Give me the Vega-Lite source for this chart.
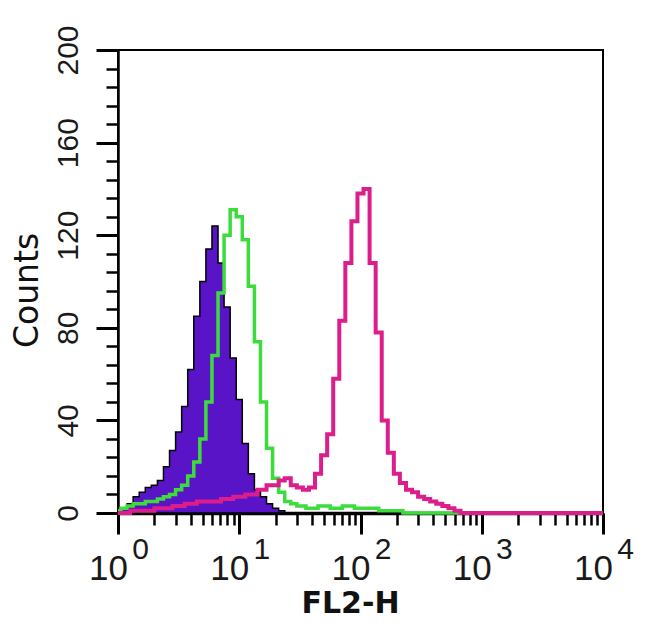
{
  "$schema": "https://vega.github.io/schema/vega-lite/v6.json",
  "width": 485,
  "height": 463,
  "autosize": "none",
  "padding": {"left": 118, "top": 50, "right": 47, "bottom": 116},
  "background": "white",
  "config": {"view": {"stroke": "black", "strokeWidth": 2}},
  "data": {"values": [
    {"s": "purple", "fl": 1, "c": 0},
    {"s": "purple", "fl": 1.122, "c": 2},
    {"s": "purple", "fl": 1.259, "c": 4},
    {"s": "purple", "fl": 1.413, "c": 7},
    {"s": "purple", "fl": 1.585, "c": 9},
    {"s": "purple", "fl": 1.778, "c": 11},
    {"s": "purple", "fl": 1.995, "c": 12},
    {"s": "purple", "fl": 2.239, "c": 14},
    {"s": "purple", "fl": 2.512, "c": 20},
    {"s": "purple", "fl": 2.818, "c": 27},
    {"s": "purple", "fl": 3.162, "c": 35},
    {"s": "purple", "fl": 3.548, "c": 46},
    {"s": "purple", "fl": 3.981, "c": 62},
    {"s": "purple", "fl": 4.467, "c": 85},
    {"s": "purple", "fl": 5.012, "c": 100},
    {"s": "purple", "fl": 5.623, "c": 114},
    {"s": "purple", "fl": 6.31, "c": 124},
    {"s": "purple", "fl": 7.079, "c": 108},
    {"s": "purple", "fl": 7.943, "c": 89},
    {"s": "purple", "fl": 8.913, "c": 67},
    {"s": "purple", "fl": 10, "c": 49},
    {"s": "purple", "fl": 11.22, "c": 30},
    {"s": "purple", "fl": 12.59, "c": 17},
    {"s": "purple", "fl": 14.13, "c": 10},
    {"s": "purple", "fl": 15.85, "c": 7},
    {"s": "purple", "fl": 17.78, "c": 4},
    {"s": "purple", "fl": 19.95, "c": 2},
    {"s": "purple", "fl": 22.39, "c": 1},
    {"s": "purple", "fl": 25.12, "c": 0},
    {"s": "green", "fl": 1, "c": 1},
    {"s": "green", "fl": 1.122, "c": 2},
    {"s": "green", "fl": 1.259, "c": 3},
    {"s": "green", "fl": 1.413, "c": 4},
    {"s": "green", "fl": 1.585, "c": 4},
    {"s": "green", "fl": 1.778, "c": 5},
    {"s": "green", "fl": 1.995, "c": 5},
    {"s": "green", "fl": 2.239, "c": 6},
    {"s": "green", "fl": 2.512, "c": 7},
    {"s": "green", "fl": 2.818, "c": 8},
    {"s": "green", "fl": 3.162, "c": 10},
    {"s": "green", "fl": 3.548, "c": 12},
    {"s": "green", "fl": 3.981, "c": 16},
    {"s": "green", "fl": 4.467, "c": 22},
    {"s": "green", "fl": 5.012, "c": 32},
    {"s": "green", "fl": 5.623, "c": 48},
    {"s": "green", "fl": 6.31, "c": 68},
    {"s": "green", "fl": 7.079, "c": 95},
    {"s": "green", "fl": 7.943, "c": 120},
    {"s": "green", "fl": 8.913, "c": 131},
    {"s": "green", "fl": 10, "c": 128},
    {"s": "green", "fl": 11.22, "c": 118},
    {"s": "green", "fl": 12.59, "c": 98},
    {"s": "green", "fl": 14.13, "c": 74},
    {"s": "green", "fl": 15.85, "c": 48},
    {"s": "green", "fl": 17.78, "c": 28},
    {"s": "green", "fl": 19.95, "c": 15},
    {"s": "green", "fl": 22.39, "c": 9},
    {"s": "green", "fl": 25.12, "c": 5},
    {"s": "green", "fl": 28.18, "c": 4},
    {"s": "green", "fl": 31.62, "c": 3},
    {"s": "green", "fl": 39.81, "c": 2},
    {"s": "green", "fl": 50.12, "c": 3},
    {"s": "green", "fl": 63.1, "c": 2},
    {"s": "green", "fl": 79.43, "c": 3},
    {"s": "green", "fl": 100, "c": 2},
    {"s": "green", "fl": 125.9, "c": 2},
    {"s": "green", "fl": 158.5, "c": 1},
    {"s": "green", "fl": 199.5, "c": 1},
    {"s": "green", "fl": 251.2, "c": 0},
    {"s": "green", "fl": 10000, "c": 0},
    {"s": "magenta", "fl": 1, "c": 0},
    {"s": "magenta", "fl": 1.585, "c": 1},
    {"s": "magenta", "fl": 2.512, "c": 2},
    {"s": "magenta", "fl": 3.162, "c": 3},
    {"s": "magenta", "fl": 3.981, "c": 4},
    {"s": "magenta", "fl": 5.012, "c": 5},
    {"s": "magenta", "fl": 6.31, "c": 5},
    {"s": "magenta", "fl": 7.943, "c": 6},
    {"s": "magenta", "fl": 10, "c": 7},
    {"s": "magenta", "fl": 12.59, "c": 8},
    {"s": "magenta", "fl": 15.85, "c": 10},
    {"s": "magenta", "fl": 17.78, "c": 12},
    {"s": "magenta", "fl": 19.95, "c": 12},
    {"s": "magenta", "fl": 22.39, "c": 14},
    {"s": "magenta", "fl": 25.12, "c": 15},
    {"s": "magenta", "fl": 28.18, "c": 12},
    {"s": "magenta", "fl": 31.62, "c": 11},
    {"s": "magenta", "fl": 35.48, "c": 10},
    {"s": "magenta", "fl": 39.81, "c": 11},
    {"s": "magenta", "fl": 44.67, "c": 17},
    {"s": "magenta", "fl": 50.12, "c": 25},
    {"s": "magenta", "fl": 56.23, "c": 34},
    {"s": "magenta", "fl": 63.1, "c": 58},
    {"s": "magenta", "fl": 70.79, "c": 83},
    {"s": "magenta", "fl": 79.43, "c": 108},
    {"s": "magenta", "fl": 89.13, "c": 126},
    {"s": "magenta", "fl": 100, "c": 138},
    {"s": "magenta", "fl": 112.2, "c": 140},
    {"s": "magenta", "fl": 125.9, "c": 108},
    {"s": "magenta", "fl": 141.3, "c": 78},
    {"s": "magenta", "fl": 158.5, "c": 40},
    {"s": "magenta", "fl": 177.8, "c": 26},
    {"s": "magenta", "fl": 199.5, "c": 17},
    {"s": "magenta", "fl": 223.9, "c": 13},
    {"s": "magenta", "fl": 251.2, "c": 10},
    {"s": "magenta", "fl": 281.8, "c": 9},
    {"s": "magenta", "fl": 316.2, "c": 7},
    {"s": "magenta", "fl": 354.8, "c": 6},
    {"s": "magenta", "fl": 398.1, "c": 5},
    {"s": "magenta", "fl": 446.7, "c": 4},
    {"s": "magenta", "fl": 501.2, "c": 3},
    {"s": "magenta", "fl": 562.3, "c": 2},
    {"s": "magenta", "fl": 631, "c": 1},
    {"s": "magenta", "fl": 707.9, "c": 0},
    {"s": "magenta", "fl": 10000, "c": 0}
  ]},
  "layer": [
    {
      "transform": [{"filter": "datum.s === 'purple'"}],
      "mark": {"type": "area", "interpolate": "step", "fill": "#5a14c8", "stroke": "black", "strokeWidth": 1.5},
      "encoding": {
        "x": {
          "field": "fl", "type": "quantitative",
          "scale": {"type": "log", "domain": [1, 10000]},
          "axis": {
            "orient": "bottom",
            "values": [1,2,3,4,5,6,7,8,9,10,20,30,40,50,60,70,80,90,100,200,300,400,500,600,700,800,900,1000,2000,3000,4000,5000,6000,7000,8000,9000,10000],
            "labelExpr": "indexof([1,10,100,1000,10000], datum.value) >= 0 ? '10' : ''",
            "tickSize": 12,
            "tickWidth": 2.5, "tickColor": "black",
            "domainColor": "black", "domainWidth": 3.5,
            "grid": false,
            "labelFont": "Liberation Sans", "labelFontSize": 35, "labelColor": "#1a1a1a",
            "labelBaseline": "alphabetic", "labelAlign": "center", "labelPadding": 54, "labelOffset": -10,
            "labelFlush": false, "labelOverlap": false,
            "title": "FL2-H",
            "titleFont": "DejaVu Sans", "titleFontWeight": "bold", "titleFontSize": 30, "titleColor": "#111",
            "titleX": 232, "titleY": 99, "titleBaseline": "alphabetic", "titleAlign": "center"
          }
        },
        "y": {
          "field": "c", "type": "quantitative",
          "scale": {"domain": [0, 200]},
          "axis": {
            "orient": "left",
            "values": [0,8,16,24,32,40,48,56,64,72,80,88,96,104,112,120,128,136,144,152,160,168,176,184,192,200],
            "labels": false,
            "tickSize": 12,
            "tickWidth": 2.5, "tickColor": "black",
            "domainColor": "black", "domainWidth": 2.5,
            "grid": false,
            "title": "Counts",
            "titleFont": "DejaVu Sans", "titleFontWeight": "normal", "titleFontSize": 33, "titleColor": "#111",
            "titleAngle": 270, "titleX": -81, "titleY": 240, "titleAlign": "center", "titleBaseline": "alphabetic"
          }
        }
      }
    },
    {
      "transform": [{"filter": "datum.s === 'green'"}],
      "mark": {"type": "line", "interpolate": "step", "color": "#3ddc3d", "strokeWidth": 3.5},
      "encoding": {
        "x": {
          "field": "fl", "type": "quantitative",
          "scale": {"type": "log", "domain": [1, 10000]},
          "axis": {
            "orient": "bottom",
            "values": [1, 10, 100, 1000, 10000],
            "labelExpr": "'' + round(log(datum.value) / LN10)",
            "ticks": true, "tickSize": 21, "tickWidth": 3, "tickColor": "black",
            "domain": false, "grid": false,
            "labelFont": "Liberation Sans", "labelFontSize": 30, "labelColor": "#1a1a1a",
            "labelBaseline": "alphabetic", "labelAlign": "center", "labelPadding": 24, "labelOffset": 22,
            "labelFlush": false, "labelOverlap": false,
            "title": null
          }
        },
        "y": {
          "field": "c", "type": "quantitative",
          "scale": {"domain": [0, 200]},
          "axis": {
            "orient": "left",
            "values": [0, 40, 80, 120, 160, 200],
            "ticks": true, "tickSize": 22, "tickWidth": 3, "tickColor": "black",
            "domain": false, "grid": false,
            "labelFont": "Liberation Sans", "labelFontSize": 30, "labelColor": "#1a1a1a",
            "labelAngle": 270, "labelAlign": "center", "labelBaseline": "alphabetic", "labelPadding": 19,
            "labelFlush": false, "labelOverlap": false,
            "title": null
          }
        }
      }
    },
    {
      "transform": [{"filter": "datum.s === 'magenta'"}],
      "mark": {"type": "line", "interpolate": "step", "color": "#dc1e8c", "strokeWidth": 4},
      "encoding": {
        "x": {"field": "fl", "type": "quantitative", "scale": {"type": "log", "domain": [1, 10000]}, "axis": null},
        "y": {"field": "c", "type": "quantitative", "scale": {"domain": [0, 200]}, "axis": null}
      }
    }
  ],
  "resolve": {"axis": {"x": "independent", "y": "independent"}}
}
